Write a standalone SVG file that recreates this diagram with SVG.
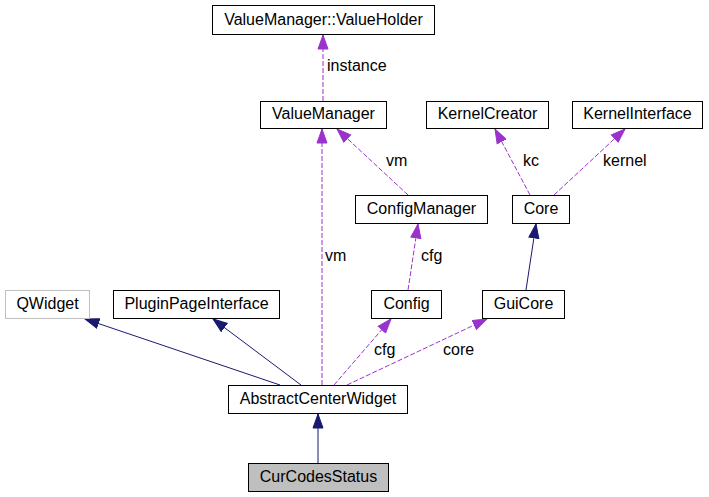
<svg xmlns="http://www.w3.org/2000/svg" width="709" height="497" viewBox="0 0 709 497">
<style>
.n rect{fill:#fff;stroke:#000;stroke-width:1}
.n text{font-family:"Liberation Sans",Arial,sans-serif;font-size:16px;fill:#000;text-anchor:middle}
.g rect{stroke:#bfbfbf}
.h rect{fill:#bfbfbf}
.e path{fill:none;stroke-width:1}
.u{stroke:#9a32cd;stroke-dasharray:5,2}
.s{stroke:#191970}
.l{font-family:"Liberation Sans",Arial,sans-serif;font-size:16px;fill:#000}
</style>
<defs>
<marker id="ap" markerUnits="userSpaceOnUse" markerWidth="16" markerHeight="13" refX="14.5" refY="6" orient="auto"><path d="M0.5,1 L14.5,6 L0.5,11 z" fill="#9a32cd" stroke="#9a32cd" stroke-width="1"/></marker>
<marker id="an" markerUnits="userSpaceOnUse" markerWidth="16" markerHeight="13" refX="14.5" refY="6" orient="auto"><path d="M0.5,1 L14.5,6 L0.5,11 z" fill="#191970" stroke="#191970" stroke-width="1"/></marker>
</defs>
<rect width="709" height="497" fill="#fff"/>
<g id="edges" class="e">
<path class="u" d="M323,101 L323,35" marker-end="url(#ap)"/>
<path class="u" d="M322,385 L322,129" marker-end="url(#ap)"/>
<path class="u" d="M408,195 L337,129" marker-end="url(#ap)"/>
<path class="u" d="M408,290 L418,224" marker-end="url(#ap)"/>
<path class="u" d="M530,195 L495,129" marker-end="url(#ap)"/>
<path class="u" d="M554,195 L625,129" marker-end="url(#ap)"/>
<path class="s" d="M526,290 L536,224" marker-end="url(#an)"/>
<path class="u" d="M334,385 L391,319" marker-end="url(#ap)"/>
<path class="u" d="M347,385 L487,319" marker-end="url(#ap)"/>
<path class="s" d="M280,385 L85,319" marker-end="url(#an)"/>
<path class="s" d="M301,385 L213,319" marker-end="url(#an)"/>
<path class="s" d="M318,463 L318,414" marker-end="url(#an)"/>
<text class="l" x="327" y="71">instance</text>
<text class="l" x="325" y="261">vm</text>
<text class="l" x="386" y="166">vm</text>
<text class="l" x="421" y="261">cfg</text>
<text class="l" x="523" y="166">kc</text>
<text class="l" x="603" y="166">kernel</text>
<text class="l" x="374" y="355">cfg</text>
<text class="l" x="443" y="355">core</text>
</g>
<g id="ValueHolder" class="n"><rect x="212.5" y="5.5" width="222" height="29"/><text x="323.5" y="25">ValueManager::ValueHolder</text></g>
<g id="ValueManager" class="n"><rect x="260.5" y="101.5" width="126" height="27"/><text x="323.5" y="119">ValueManager</text></g>
<g id="KernelCreator" class="n"><rect x="426.5" y="101.5" width="122" height="27"/><text x="487.5" y="119">KernelCreator</text></g>
<g id="KernelInterface" class="n"><rect x="572.5" y="101.5" width="130" height="27"/><text x="637.5" y="119">KernelInterface</text></g>
<g id="ConfigManager" class="n"><rect x="355.5" y="195.5" width="132" height="28"/><text x="421.5" y="214">ConfigManager</text></g>
<g id="Core" class="n"><rect x="512.5" y="195.5" width="57" height="28"/><text x="541" y="214">Core</text></g>
<g id="QWidget" class="n g"><rect x="5.5" y="290.5" width="84" height="28"/><text x="47.5" y="309">QWidget</text></g>
<g id="PluginPageInterface" class="n"><rect x="113.5" y="290.5" width="166" height="28"/><text x="196.5" y="309">PluginPageInterface</text></g>
<g id="Config" class="n"><rect x="371.5" y="290.5" width="70" height="28"/><text x="406.5" y="309">Config</text></g>
<g id="GuiCore" class="n"><rect x="482.5" y="290.5" width="82" height="28"/><text x="523.5" y="309">GuiCore</text></g>
<g id="AbstractCenterWidget" class="n"><rect x="228.5" y="385.5" width="179" height="28"/><text x="318" y="404">AbstractCenterWidget</text></g>
<g id="CurCodesStatus" class="n h"><rect x="248.5" y="463.5" width="140" height="28"/><text x="318.5" y="482">CurCodesStatus</text></g>
</svg>
